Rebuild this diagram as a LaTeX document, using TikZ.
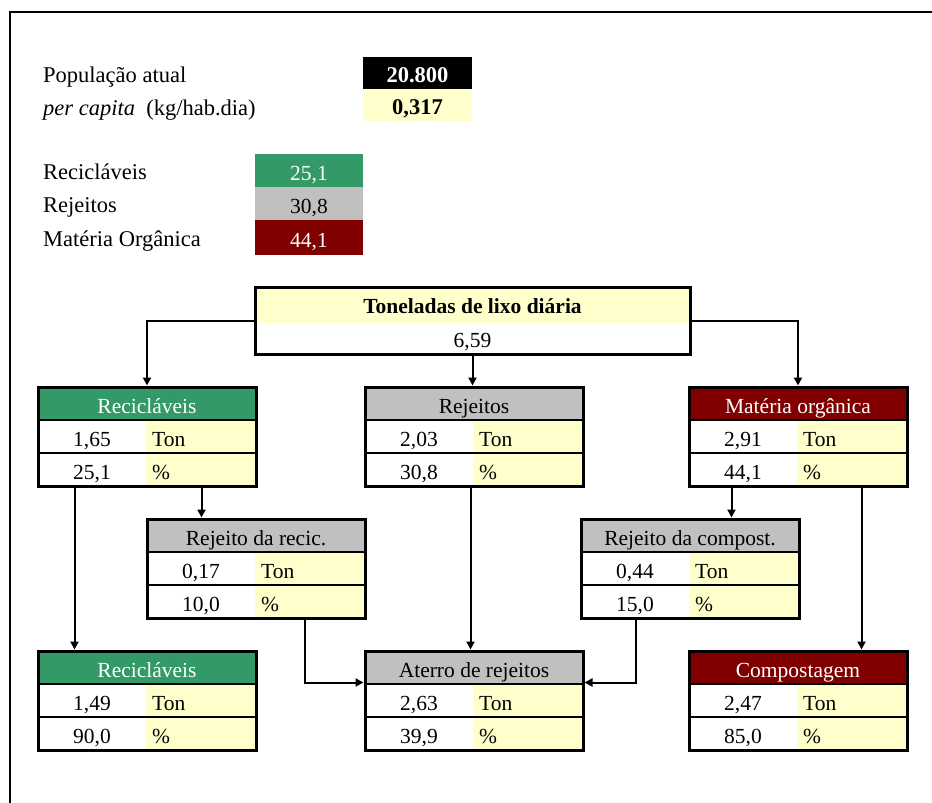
\documentclass[tikz,border=0pt]{standalone}
\usepackage{fontspec}
\setmainfont{Liberation Serif}
\usetikzlibrary{arrows.meta}

\definecolor{recgreen}{HTML}{339966}
\definecolor{rejgray}{HTML}{C0C0C0}
\definecolor{orgred}{HTML}{800000}
\definecolor{cellyellow}{HTML}{FFFFCC}

\newcommand{\cellfont}{\fontsize{21.5}{26}\selectfont}
\newcommand{\labelfont}{\fontsize{22.5}{27}\selectfont}

\tikzset{
  every node/.style={font=\cellfont, inner sep=0pt},
  lbl/.style={anchor=base west},
  sidelbl/.style={anchor=base west, font=\labelfont},
  ctr/.style={anchor=base},
  rowline/.style={line width=2pt},
  conn/.style={line width=2pt, -{Triangle[length=8pt,width=8pt]}},
  tableframe/.style={draw, line width=3pt, minimum width=218pt, minimum height=99pt},
}

% #1 name, #2 left, #3 top, #4 header fill, #5 header text colour,
% #6 title, #7 tonnes, #8 percentage
\newcommand{\flowtable}[8]{%
  \fill[#4] (#2,#3) rectangle ++(218,33);
  \fill[white] (#2,#3+33) rectangle ++(108,66);
  \fill[cellyellow] (#2+108,#3+33) rectangle ++(110,66);
  \draw[rowline] (#2,#3+33) -- ++(218,0);
  \draw[rowline] (#2,#3+66) -- ++(218,0);
  \node[ctr, text=#5] (#1-head) at (#2+109,#3+26) {#6};
  \node[ctr] (#1-ton) at (#2+54,#3+59) {#7};
  \node[lbl] (#1-tonunit) at (#2+114,#3+59) {Ton};
  \node[ctr] (#1-pct) at (#2+54,#3+92) {#8};
  \node[lbl] (#1-pctunit) at (#2+114,#3+92) {\%};
  \node[tableframe] (#1) at (#2+109,#3+49.5) {};
}

\begin{document}
\begin{tikzpicture}[x=1pt, y=-1pt]
\useasboundingbox (0,0) rectangle (932,803);
\fill[white] (0,0) rectangle (932,803);

% page frame
\draw[line width=2pt] (932,12) -- (10,12) -- (10,803);

% population and per capita
\node[sidelbl] (poplabel) at (43,82) {População atual};
\node[sidelbl] (pclabel) at (43,115) {\textit{per capita}\ \ (kg/hab.dia)};
\fill[black] (363,57) rectangle (472,89);
\fill[cellyellow] (363,89) rectangle (472,121);
\node[ctr, text=white, font=\labelfont\bfseries] (popvalue) at (417.5,82) {20.800};
\node[ctr, font=\labelfont\bfseries] (pcvalue) at (417.5,114) {0,317};

% composition
\node[sidelbl] (reclabel) at (43,179) {Recicláveis};
\node[sidelbl] (rejlabel) at (43,212) {Rejeitos};
\node[sidelbl] (orglabel) at (43,246) {Matéria Orgânica};
\fill[recgreen] (255,154) rectangle (363,187);
\fill[rejgray] (255,187) rectangle (363,220);
\fill[orgred] (255,220) rectangle (363,255);
\node[ctr, text=white] (recshare) at (309,180) {25,1};
\node[ctr] (rejshare) at (309,213) {30,8};
\node[ctr, text=white] (orgshare) at (309,247) {44,1};

% daily total
\fill[cellyellow] (255,287) rectangle (690,323);
\node[ctr, font=\cellfont\bfseries] (totaltitle) at (472.5,313) {Toneladas de lixo diária};
\node[ctr] (totalvalue) at (472.5,347) {6,59};
\node[draw, line width=3pt, minimum width=435pt, minimum height=67pt] (total) at (472.5,320.5) {};

% tables
\flowtable{recA}{38}{387}{recgreen}{white}{Recicláveis}{1,65}{25,1}
\flowtable{rejA}{365}{387}{rejgray}{black}{Rejeitos}{2,03}{30,8}
\flowtable{orgA}{689}{387}{orgred}{white}{Matéria orgânica}{2,91}{44,1}
\flowtable{rrec}{147}{519}{rejgray}{black}{Rejeito da recic.}{0,17}{10,0}
\flowtable{rcomp}{581}{519}{rejgray}{black}{Rejeito da compost.}{0,44}{15,0}
\flowtable{recB}{38}{651}{recgreen}{white}{Recicláveis}{1,49}{90,0}
\flowtable{aterro}{365}{651}{rejgray}{black}{Aterro de rejeitos}{2,63}{39,9}
\flowtable{comp}{689}{651}{orgred}{white}{Compostagem}{2,47}{85,0}

% connectors
\draw[conn] (total.west) -| (recA.north);
\draw[conn] (total.east) -| (orgA.north);
\draw[conn] (total.south) -- (total.south |- rejA.north);
\draw[conn] ([xshift=38pt]recA.south west) -- ([xshift=38pt]recB.north west);
\draw[conn] ([xshift=165pt]recA.south west) -- ([xshift=56pt]rrec.north west);
\draw[conn] ([xshift=107pt]rejA.south west) -- ([xshift=107pt]aterro.north west);
\draw[conn] ([xshift=44pt]orgA.south west) -- ([xshift=152pt]rcomp.north west);
\draw[conn] ([xshift=174pt]orgA.south west) -- ([xshift=174pt]comp.north west);
\draw[conn] ([xshift=159pt]rrec.south west) |- ([yshift=-33pt]aterro.north west);
\draw[conn] ([xshift=56pt]rcomp.south west) |- ([yshift=-33pt]aterro.north east);
\end{tikzpicture}
\end{document}
